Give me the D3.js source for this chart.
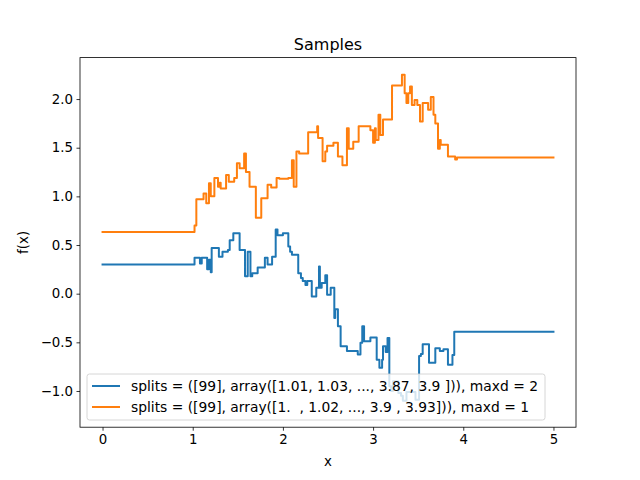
<!DOCTYPE html>
<html><head><meta charset="utf-8">
<script src="https://cdn.jsdelivr.net/npm/d3@7"></script>
<style>
body{margin:0;background:#fff;}
text{font-family:"DejaVu Sans",sans-serif;fill:#000;}
</style></head>
<body><svg id="c" width="640" height="480"></svg>
<script>
const xTicks=[0,1,2,3,4,5];
const yTicks=[-1.0,-0.5,0.0,0.5,1.0,1.5,2.0];
const blueX=[0,1.02,1.08,1.10,1.16,1.18,1.20,1.21,1.29,1.33,1.39,1.41,1.45,1.52,1.58,1.61,1.64,1.66,1.72,1.80,1.83,1.88,1.92,1.94,2.00,2.06,2.08,2.10,2.17,2.20,2.22,2.25,2.27,2.32,2.37,2.40,2.41,2.43,2.47,2.49,2.53,2.57,2.58,2.61,2.64,2.71,2.83,2.86,2.88,2.90,2.97,3.04,3.07,3.10,3.11,3.14,3.16,3.18,3.20,3.22,3.28,3.31,3.33,3.37,3.47,3.51,3.53,3.55,3.62,3.69,3.74,3.78,3.83,3.88,3.90,5];
const blueY=[0.30,0.37,0.31,0.37,0.25,0.35,0.22,0.47,0.38,0.43,0.45,0.55,0.62,0.45,0.18,0.43,0.18,0.21,0.27,0.37,0.30,0.38,0.66,0.60,0.62,0.485,0.43,0.40,0.21,0.16,0.13,0.09,0.13,-0.03,0.06,0.28,0.06,0.11,0.19,-0.01,0.06,-0.25,-0.16,-0.335,-0.54,-0.59,-0.625,-0.505,-0.335,-0.49,-0.45,-0.68,-0.76,-0.68,-0.54,-0.60,-0.455,-0.95,-1.00,-0.90,-1.02,-1.05,-1.10,-1.01,-1.09,-0.64,-0.62,-0.52,-0.71,-0.56,-0.59,-0.57,-0.73,-0.63,-0.39,-0.39];
const orangeX=[0,1.02,1.04,1.12,1.15,1.18,1.20,1.24,1.28,1.30,1.31,1.37,1.40,1.46,1.49,1.52,1.57,1.59,1.63,1.70,1.76,1.83,1.87,1.93,1.96,2.06,2.10,2.12,2.15,2.18,2.28,2.33,2.38,2.39,2.44,2.47,2.49,2.56,2.61,2.66,2.71,2.73,2.78,2.84,2.97,3.00,3.02,3.03,3.06,3.08,3.11,3.21,3.32,3.35,3.37,3.39,3.41,3.43,3.46,3.49,3.52,3.55,3.61,3.64,3.67,3.69,3.72,3.74,3.75,3.83,3.91,3.93,5];
const orangeY=[0.635,0.70,0.97,1.03,0.93,1.135,1.00,1.19,1.10,1.14,1.08,1.22,1.15,1.19,1.34,1.29,1.44,1.25,1.10,0.78,0.98,1.12,1.09,1.19,1.18,1.19,1.37,1.10,1.46,1.44,1.66,1.66,1.72,1.60,1.36,1.46,1.52,1.55,1.41,1.32,1.70,1.49,1.56,1.72,1.68,1.55,1.70,1.58,1.84,1.63,1.79,2.14,2.25,2.06,1.96,2.06,2.13,1.94,1.99,1.94,1.77,1.96,1.89,2.02,1.84,1.75,1.49,1.58,1.53,1.41,1.38,1.40,1.40];
const seriesNames=["splits = ([99], array([1.01, 1.03, ..., 3.87, 3.9 ])), maxd = 2","splits = ([99], array([1.  , 1.02, ..., 3.9 , 3.93])), maxd = 1"];
const colors=["#1f77b4","#ff7f0e"];

const svg=d3.select("#c");
const L=80,R=576,T=57.6,B=427.2;
const x=d3.scaleLinear().domain([-0.25,5.25]).range([L,R]);
const y=d3.scaleLinear().domain([-1.372,2.426]).range([B,T]);

const line=d3.line().x(d=>x(d[0])).y(d=>y(d[1])).curve(d3.curveStepAfter);
const series=[d3.zip(blueX,blueY),d3.zip(orangeX,orangeY)];
series.forEach((s,i)=>{
  svg.append("path").attr("d",line(s)).attr("fill","none").attr("stroke",colors[i])
    .attr("stroke-width",2).attr("stroke-linejoin","round").attr("stroke-linecap","square");
});

// axes
const xa=svg.append("g").attr("transform",`translate(0,${B})`)
  .call(d3.axisBottom(x).tickValues(xTicks).tickSize(3.5).tickPadding(3.5).tickFormat(d3.format("d")));
const ya=svg.append("g").attr("transform",`translate(${L},0)`)
  .call(d3.axisLeft(y).tickValues(yTicks).tickSize(3.5).tickPadding(3.5).tickFormat(d=>d3.format(".1f")(d).replace("-","\u2212")));
[xa,ya].forEach(g=>{
  g.select(".domain").remove();
  g.selectAll("line").attr("stroke","#000").attr("stroke-width",0.8);
  g.selectAll("text").attr("font-size","13.33px").attr("font-family","DejaVu Sans").attr("fill","#000");
});
svg.append("rect").attr("x",L).attr("y",T).attr("width",R-L).attr("height",B-T)
  .attr("fill","none").attr("stroke","#000").attr("stroke-width",0.8);

// legend
const lg=svg.append("g");
lg.append("rect").attr("x",87).attr("y",374).attr("width",458).attr("height",46).attr("rx",2.5)
  .attr("fill","#fff").attr("fill-opacity",0.8).attr("stroke","#cccccc").attr("stroke-width",0.8);
const legendTextWidths=[407,398];
seriesNames.forEach((n,i)=>{
  const cy=386+i*21;
  lg.append("line").attr("x1",92).attr("x2",120).attr("y1",cy).attr("y2",cy)
    .attr("stroke",colors[i]).attr("stroke-width",2);
  lg.append("text").attr("x",131).attr("y",cy).attr("dy","0.36em").attr("font-size","13.33px")
    .attr("textLength",legendTextWidths[i]).attr("lengthAdjust","spacingAndGlyphs")
    .style("white-space","pre").text(n);
});

svg.append("text").attr("x",(L+R)/2).attr("y",49.5).attr("text-anchor","middle").attr("font-size","16px").text("Samples");
svg.append("text").attr("x",(L+R)/2).attr("y",466).attr("text-anchor","middle").attr("font-size","13.33px").text("x");
svg.append("text").attr("transform",`translate(28,${(T+B)/2}) rotate(-90)`).attr("text-anchor","middle").attr("font-size","13.33px").text("f(x)");
</script></body></html>
